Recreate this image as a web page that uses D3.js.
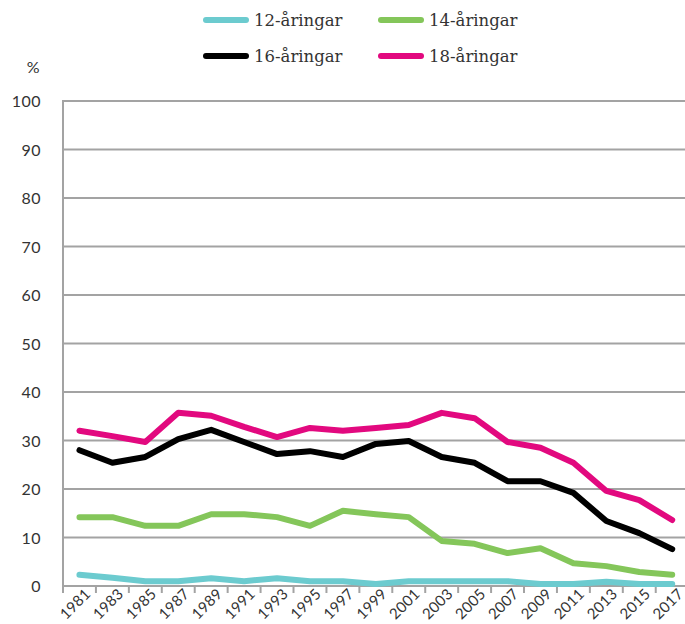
<!doctype html>
<html>
<head>
<meta charset="UTF-8">
<script src="https://d3js.org/d3.v7.min.js"></script>
<style>
body { margin: 0; background: #fff; }
svg text { fill: #333; }
.axis text { font-family: Lato, "Open Sans", sans-serif; font-size: 16px; font-weight: 400; letter-spacing: 0.5px; }
.axis text.xl { font-size: 15px; letter-spacing: 0.2px; }
.legend text { font-family: "DejaVu Serif", serif; font-size: 16.5px; }
</style>
</head>
<body>
<div id="chart"></div>
<script>
var years = ["1981","1983","1985","1987","1989","1991","1993","1995","1997","1999","2001","2003","2005","2007","2009","2011","2013","2015","2017"];
var yTicks = [0,10,20,30,40,50,60,70,80,90,100];
var seriesNames = ["12-åringar","14-åringar","16-åringar","18-åringar"];
var seriesColors = ["#6ccbcf","#84c65a","#000000","#e2097f"];

var age12 = [2.3,1.7,1.0,1.0,1.6,1.0,1.6,1.0,1.0,0.4,1.0,1.0,1.0,1.0,0.4,0.4,0.9,0.4,0.4];
var age14 = [14.2,14.2,12.4,12.4,14.8,14.8,14.2,12.4,15.5,14.8,14.2,9.3,8.7,6.8,7.8,4.7,4.1,2.9,2.3];
var age16 = [28.0,25.4,26.6,30.3,32.2,29.7,27.2,27.8,26.6,29.3,29.9,26.6,25.4,21.6,21.6,19.2,13.4,10.9,7.6];
var age18 = [32.0,30.9,29.7,35.7,35.1,32.8,30.7,32.6,32.0,32.6,33.2,35.7,34.6,29.7,28.5,25.4,19.6,17.7,13.6];
var series = [age12, age14, age16, age18];

var W = 685, H = 624;
var mLeft = 63, mTop = 101, mBottom = 586, mRight = mLeft + 32.93 * years.length;

var svg = d3.select("#chart").append("svg")
  .attr("width", W).attr("height", H);

var x = d3.scaleBand().domain(years).range([mLeft, mRight]);
var y = d3.scaleLinear().domain([0, 100]).range([mBottom, mTop]);

// gridlines
svg.append("g").selectAll("line")
  .data(yTicks.filter(d => d > 0))
  .enter().append("line")
  .attr("x1", mLeft).attr("x2", W)
  .attr("y1", d => y(d)).attr("y2", d => y(d))
  .attr("stroke", "#a3a3a3").attr("stroke-width", 2);

// y axis labels
var ya = svg.append("g").attr("class", "axis");
ya.selectAll("text").data(yTicks).enter().append("text")
  .attr("x", 41).attr("y", d => y(d) + 6)
  .attr("text-anchor", "end")
  .text(d => d);
ya.append("text").attr("x", 40).attr("y", 73).attr("text-anchor", "end").text("%");

// left axis line
svg.append("line").attr("x1", mLeft).attr("x2", mLeft).attr("y1", mTop - 1).attr("y2", mBottom)
  .attr("stroke", "#a3a3a3").attr("stroke-width", 2);

// x axis
var xa = svg.append("g").attr("class", "axis").attr("transform", "translate(0," + mBottom + ")");
xa.append("line").attr("x1", mLeft).attr("x2", W).attr("stroke", "#a3a3a3").attr("stroke-width", 2);
xa.selectAll("line.tick").data(years).enter().append("line")
  .attr("class", "tick")
  .attr("x1", d => x(d)).attr("x2", d => x(d))
  .attr("y1", 0).attr("y2", 7)
  .attr("stroke", "#a3a3a3").attr("stroke-width", 2);
xa.selectAll("text").data(years).enter().append("text")
  .attr("class", "xl")
  .attr("text-anchor", "end")
  .attr("transform", d => "translate(" + (x(d) + x.bandwidth() / 2 + 12) + ",9) rotate(-45)")
  .text(d => d);

// lines
var line = d3.line()
  .x((d, i) => x(years[i]) + x.bandwidth() / 2)
  .y(d => y(d));

svg.append("g").selectAll("path")
  .data(series)
  .enter().append("path")
  .attr("d", d => line(d))
  .attr("fill", "none")
  .attr("stroke", (d, i) => seriesColors[i])
  .attr("stroke-width", 6)
  .attr("stroke-linejoin", "round")
  .attr("stroke-linecap", "round");

// legend
var legPos = [[203, 20], [378, 20], [203, 56], [378, 56]];
var leg = svg.append("g").attr("class", "legend");
var item = leg.selectAll("g").data(seriesNames).enter().append("g")
  .attr("transform", (d, i) => "translate(" + legPos[i][0] + "," + legPos[i][1] + ")");
item.append("line").attr("x1", 3).attr("x2", 43)
  .attr("stroke", (d, i) => seriesColors[i]).attr("stroke-width", 6).attr("stroke-linecap", "round");
item.append("text").attr("x", 51).attr("y", 6).text(d => d);
</script>
</body>
</html>
